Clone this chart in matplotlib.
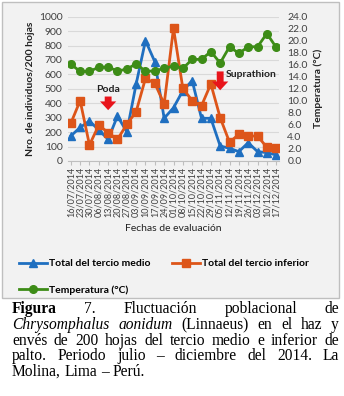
import matplotlib
matplotlib.use('Agg')
import matplotlib.pyplot as plt
import matplotlib.ticker as ticker
from matplotlib.patches import Rectangle

fechas = ['16/07/2014', '23/07/2014', '30/07/2014', '06/08/2014', '13/08/2014',
          '20/08/2014', '27/08/2014', '03/09/2014', '10/09/2014', '17/09/2014',
          '24/09/2014', '01/10/2014', '08/10/2014', '15/10/2014', '22/10/2014',
          '29/10/2014', '05/11/2014', '12/11/2014', '19/11/2014', '26/11/2014',
          '03/12/2014', '10/12/2014', '17/12/2014']
medio = [173, 233, 277, 215, 150, 312, 201, 534, 834, 688, 296, 369,
         487, 557, 296, 296, 104, 88, 65, 127, 65, 58, 42]
inferior = [261, 418, 111, 249, 196, 150, 254, 342, 573, 538, 395, 920,
            504, 418, 383, 534, 300, 130, 185, 173, 173, 95, 88]
temperatura = [16.1, 14.9, 14.9, 15.6, 15.6, 15.0, 15.25, 16.2, 14.9, 15.0, 15.4, 15.8,
               15.4, 16.9, 16.9, 18.2, 16.3, 19.0, 17.9, 19.0, 19.0, 21.2, 18.9]

plt.rcParams['font.family'] = ['Lato', 'DejaVu Sans']

W, H = 344, 396
fig = plt.figure(figsize=(W / 100, H / 100), dpi=100)

# caja gris del grafico
fig.patches.append(Rectangle((2 / W, 1 - 298 / H), 337 / W, 296 / H, transform=fig.transFigure,
                             facecolor='#f2f2f2', edgecolor='#bfbfbf', linewidth=1, zorder=-5))

ax = fig.add_axes([68 / W, 1 - 161 / H, 211 / W, 144.3 / H])
ax.patch.set_alpha(0)
x = list(range(len(fechas)))

azul = '#1f6fc0'
naranja = '#dd5519'
verde = '#3d8c17'

l1, = ax.plot(x, medio, color=azul, lw=2, marker='^', ms=5.5, label='Total del tercio medio', zorder=3)
l2, = ax.plot(x, inferior, color=naranja, lw=2, marker='s', ms=5.5, label='Total del tercio inferior', zorder=3)
ax.set_ylim(0, 1000)
ax.set_xlim(-0.3, len(fechas) - 0.7)
ax.yaxis.set_major_locator(ticker.MultipleLocator(100))
ax.grid(axis='y', color='#d9d9d9', lw=0.8)
ax.set_axisbelow(True)
for s in ['top', 'right', 'left']:
    ax.spines[s].set_visible(False)
ax.spines['bottom'].set_color('#bfbfbf')
ax.set_xticks(x)
ax.set_xticklabels(fechas, rotation=90, fontsize=6.5, color='#404040')
ax.tick_params(axis='x', length=3, color='#bfbfbf', pad=1)
ax.tick_params(axis='y', length=0, labelsize=7.5, labelcolor='#404040', pad=4)
ax.set_ylabel('Nro. de individuos/200 hojas', fontsize=7.5, fontweight='bold', color='#222222', labelpad=3)
ax.set_xlabel('Fechas de evaluación', fontsize=7.5, color='#222222', labelpad=5)

ax2 = ax.twinx()
l3, = ax2.plot(x, temperatura, color=verde, lw=2, marker='o', ms=5.5, label='Temperatura (°C)', zorder=3)
ax2.set_ylim(0, 24)
ax2.yaxis.set_major_locator(ticker.MultipleLocator(2))
ax2.yaxis.set_major_formatter(ticker.FormatStrFormatter('%.1f'))
for s in ['top', 'right', 'left', 'bottom']:
    ax2.spines[s].set_visible(False)
ax2.tick_params(axis='y', length=0, labelsize=7.5, labelcolor='#404040', pad=6)
ax2.set_ylabel('Temperatura (°C)', fontsize=7.5, fontweight='bold', color='#222222', labelpad=4)

# anotaciones
ax.annotate('', xy=(4, 333), xytext=(4, 466),
            arrowprops=dict(arrowstyle='simple,head_length=0.7,head_width=1.3,tail_width=0.55',
                            color='#e8141b', lw=0, mutation_scale=9))
ax.text(4, 495, 'Poda', ha='center', va='center', fontsize=7.5, fontweight='bold', color='#222222')
ax.annotate('', xy=(16, 471), xytext=(16, 640),
            arrowprops=dict(arrowstyle='simple,head_length=0.7,head_width=1.3,tail_width=0.55',
                            color='#e8141b', lw=0, mutation_scale=9))
ax.text(16.55, 596, 'Suprathion', ha='left', va='center', fontsize=7.5, fontweight='bold', color='#222222')

fig.legend([l1, l3, l2], ['Total del tercio medio', 'Temperatura (°C)', 'Total del tercio inferior'],
           loc='upper left', bbox_to_anchor=(19 / W, 1 - 259 / H), ncol=2, frameon=False,
           prop={'size': 7.5, 'weight': 'bold'}, handlelength=2.7, handletextpad=0.15,
           columnspacing=2.1, labelspacing=1.6, borderpad=0, borderaxespad=0)

# pie de figura justificado
serif = 'Liberation Serif'
fs = 11.2
x0, x1 = 12, 339
renderer = fig.canvas.get_renderer()


def linea(palabras, base, justificar=True):
    textos = []
    for txt, estilo, peso in palabras:
        t = fig.text(0, 1 - base / H, txt, fontsize=fs, family=serif, style=estilo,
                     weight=peso, va='baseline', ha='left', color='black')
        textos.append(t)
    anchos = [t.get_window_extent(renderer).width for t in textos]
    if justificar:
        hueco = (x1 - x0 - sum(anchos)) / (len(textos) - 1)
    else:
        hueco = fs * 100 / 72 * 0.25
    pos = x0
    for t, a in zip(textos, anchos):
        t.set_x(pos / W)
        pos += a + hueco


linea([('Figura', 'normal', 'bold'), ('7.', 'normal', 'normal'), ('Fluctuación', 'normal', 'normal'),
       ('poblacional', 'normal', 'normal'), ('de', 'normal', 'normal')], 313)
linea([('Chrysomphalus', 'italic', 'normal'), ('aonidum', 'italic', 'normal'), ('(Linnaeus)', 'normal', 'normal'),
       ('en', 'normal', 'normal'), ('el', 'normal', 'normal'), ('haz', 'normal', 'normal'),
       ('y', 'normal', 'normal')], 329)
linea([(w, 'normal', 'normal') for w in 'envés de 200 hojas del tercio medio e inferior de'.split()], 345)
linea([(w, 'normal', 'normal') for w in 'palto. Periodo julio – diciembre del 2014. La'.split()], 360)
linea([(w, 'normal', 'normal') for w in 'Molina, Lima – Perú.'.split()], 376, justificar=False)

fig.savefig('out.png', dpi=100, facecolor='white')
